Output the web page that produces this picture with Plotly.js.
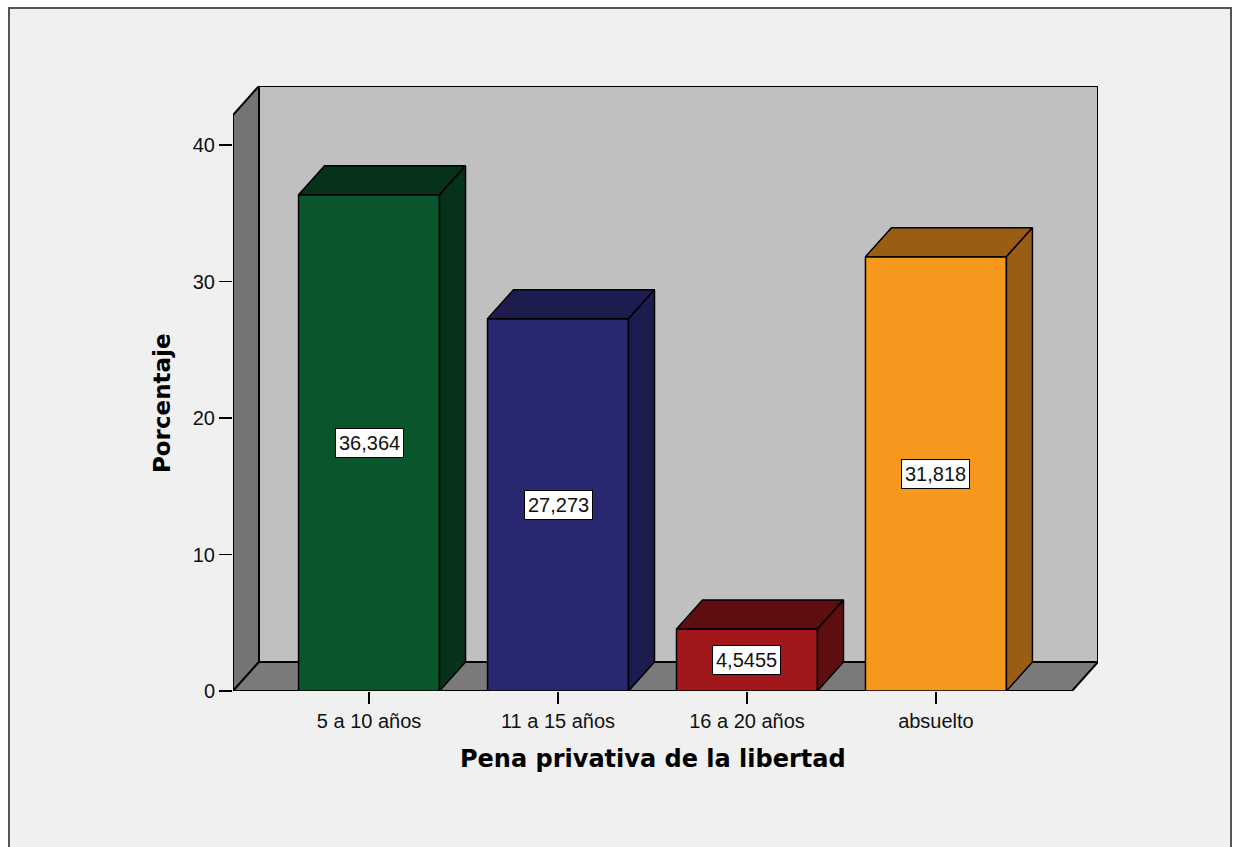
<!DOCTYPE html>
<html>
<head>
<meta charset="utf-8">
<script src="https://cdn.plot.ly/plotly-3.0.1.min.js"></script>
<style>
  html, body { margin:0; padding:0; background:#ffffff; overflow:hidden; }
  #frame { position:absolute; left:8px; top:7px; width:1220px; height:850px; background:#f0f0f0; border:2px solid #555555; }
  #chart { position:absolute; left:0; top:0; width:1236px; height:847px; }
</style>
</head>
<body>
<div id="frame"></div>
<div id="chart"></div>
<script>
// ---- data ----
const categories = ['5 a 10 años', '11 a 15 años', '16 a 20 años', 'absuelto'];
const porcentaje = [36.364, 27.273, 4.5455, 31.818];
const etiquetas = ['36,364', '27,273', '4,5455', '31,818'];
const yTickVals = [0, 10, 20, 30, 40];

// ---- style ----
const frontColors = ['#0a552c', '#272870', '#a1171b', '#f7981e'];
const darkColors  = ['#063219', '#1c1c4e', '#5f0e10', '#9a5d14'];
const halfW = 0.373;     // half bar width (category units)
const depthX = 0.1376;   // 3D depth offset in x (category units)
const depthY = 2.125;    // 3D depth offset in y (value units)
const xFront0 = -0.72, xFront1 = 3.72; // front floor extent
const wallTop = 42.2;    // front top of the left wall

const idx = categories.map((_, i) => i);
const traces = [];

// front faces as bars
traces.push({
  type: 'bar', x: idx, y: porcentaje, width: 2 * halfW,
  marker: { color: frontColors, line: { color: '#000', width: 1.5 } },
  hoverinfo: 'skip'
});

// top and side faces
idx.forEach(i => {
  const v = porcentaje[i], xl = i - halfW, xr = i + halfW;
  traces.push({
    type: 'scatter', mode: 'lines', fill: 'toself', fillcolor: darkColors[i],
    line: { color: '#000', width: 1.5 }, hoverinfo: 'skip',
    x: [xl, xr, xr + depthX, xl + depthX, xl],
    y: [v, v, v + depthY, v + depthY, v]
  });
  traces.push({
    type: 'scatter', mode: 'lines', fill: 'toself', fillcolor: darkColors[i],
    line: { color: '#000', width: 1.5 }, hoverinfo: 'skip',
    x: [xr, xr + depthX, xr + depthX, xr, xr],
    y: [0, depthY, v + depthY, v, 0]
  });
});

function path(pts) {
  return 'M ' + pts.map(p => p[0] + ',' + p[1]).join(' L ') + ' Z';
}
const x0 = xFront0, x1 = xFront1, dx = depthX, dy = depthY, wt = wallTop;
const shapes = [
  { type: 'path', xref: 'x', yref: 'y', layer: 'below', fillcolor: '#c0c0c0',
    line: { color: '#000', width: 2 },
    path: path([[x0 + dx, dy], [x1 + dx, dy], [x1 + dx, wt + dy], [x0 + dx, wt + dy]]) },
  { type: 'path', xref: 'x', yref: 'y', layer: 'below', fillcolor: '#747474',
    line: { color: '#000', width: 2 },
    path: path([[x0, 0], [x0 + dx, dy], [x0 + dx, wt + dy], [x0, wt]]) },
  { type: 'path', xref: 'x', yref: 'y', layer: 'below', fillcolor: '#7a7a7a',
    line: { color: '#000', width: 2 },
    path: path([[x0, 0], [x1, 0], [x1 + dx, dy], [x0 + dx, dy]]) }
];

const annotations = idx.map(i => ({
  x: i, y: porcentaje[i] / 2, xref: 'x', yref: 'y', text: etiquetas[i],
  showarrow: false, bgcolor: '#ffffff', bordercolor: '#000', borderwidth: 1, borderpad: 3,
  font: { family: 'Liberation Sans, Arial, sans-serif', size: 20, color: '#111' }
}));
annotations.push({
  x: (x0 + x1) / 2, xref: 'x', xanchor: 'center', y: -0.112, yref: 'paper', yanchor: 'middle',
  text: '<b>Pena privativa de la libertad</b>', showarrow: false,
  font: { family: 'DejaVu Sans, sans-serif', size: 24, color: '#000' }
});
annotations.push({
  x: -0.082, xref: 'paper', xanchor: 'center', y: wt / 2, yref: 'y', yanchor: 'middle', textangle: -90,
  text: '<b>Porcentaje</b>', showarrow: false,
  font: { family: 'DejaVu Sans, sans-serif', size: 23, color: '#000' }
});

const layout = {
  width: 1236, height: 847,
  margin: { l: 233, r: 138, t: 86, b: 156, pad: 0 },
  paper_bgcolor: 'rgba(0,0,0,0)', plot_bgcolor: 'rgba(0,0,0,0)',
  showlegend: false,
  xaxis: {
    range: [x0, x1 + dx], showgrid: false, zeroline: false, showline: false,
    tickmode: 'array', tickvals: idx, ticktext: categories,
    ticks: 'outside', ticklen: 12, tickwidth: 1.5, tickcolor: '#000',
    tickfont: { family: 'Liberation Sans, Arial, sans-serif', size: 20, color: '#111' }
  },
  yaxis: {
    range: [0, wt + dy], showgrid: false, zeroline: false, showline: false,
    tickmode: 'array', tickvals: yTickVals,
    ticks: 'outside', ticklen: 13, tickwidth: 1.5, tickcolor: '#000',
    tickfont: { family: 'Liberation Sans, Arial, sans-serif', size: 20, color: '#111' }
  },
  shapes: shapes,
  annotations: annotations
};

Plotly.newPlot('chart', traces, layout, { displayModeBar: false, staticPlot: true });
</script>
</body>
</html>
